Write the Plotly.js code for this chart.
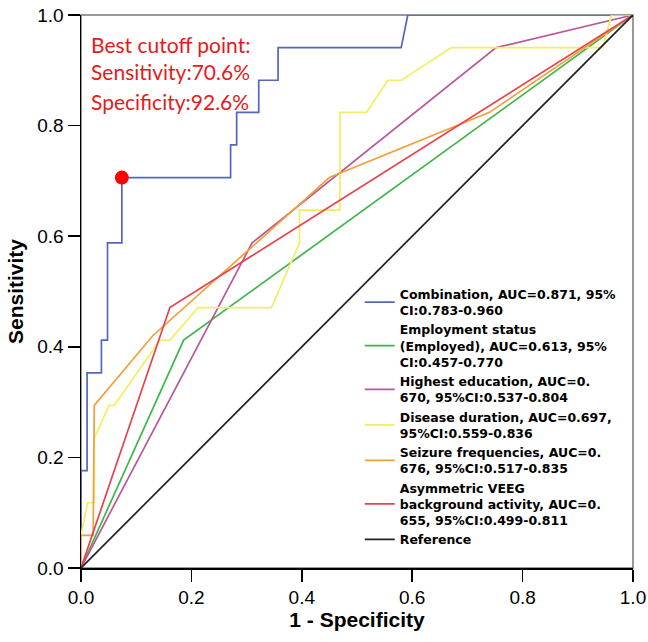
<!DOCTYPE html>
<html>
<head>
<meta charset="utf-8">
<script src="https://cdn.plot.ly/plotly-3.0.1.min.js"></script>
<style>html,body{margin:0;padding:0;background:#fff;}#chart{width:648px;height:642px;}</style>
</head>
<body>
<div id="chart"></div>
<script>
// ROC curve coordinates (x = 1 - Specificity, y = Sensitivity)
const combX = [0, 0, 0.011, 0.011, 0.037, 0.037, 0.048, 0.048, 0.074, 0.074, 0.271, 0.271, 0.282, 0.282, 0.322, 0.322, 0.357, 0.357, 0.580, 0.592, 1];
const combY = [0, 0.176, 0.176, 0.353, 0.353, 0.412, 0.412, 0.588, 0.588, 0.706, 0.706, 0.765, 0.765, 0.824, 0.824, 0.882, 0.882, 0.941, 0.941, 1, 1];

const employX = [0, 0.186, 1];
const employY = [0, 0.412, 1];

const eduX = [0, 0.310, 0.752, 1];
const eduY = [0, 0.588, 0.941, 1];

const durX = [0, 0, 0.012, 0.024, 0.024, 0.051, 0.060, 0.143, 0.161, 0.212, 0.345, 0.396, 0.396, 0.469, 0.469, 0.517, 0.556, 0.580, 0.671, 0.945, 0.961, 1];
const durY = [0, 0.059, 0.118, 0.118, 0.235, 0.294, 0.294, 0.412, 0.412, 0.471, 0.471, 0.588, 0.647, 0.647, 0.824, 0.824, 0.882, 0.882, 0.941, 0.941, 1, 1];

const seizX = [0, 0, 0.022, 0.024, 0.130, 0.450, 0.740, 1];
const seizY = [0, 0.059, 0.059, 0.294, 0.420, 0.706, 0.824, 1];

const veegX = [0, 0.161, 1];
const veegY = [0, 0.471, 1];

const refX = [0, 1];
const refY = [0, 1];

const cutoffX = [0.074];
const cutoffY = [0.706];

const seriesNames = [
  "Combination, AUC=0.871, 95%<br>CI:0.783-0.960",
  "Employment status<br>(Employed), AUC=0.613, 95%<br>CI:0.457-0.770",
  "Highest education, AUC=0.<br>670, 95%CI:0.537-0.804",
  "Disease duration, AUC=0.697,<br>95%CI:0.559-0.836",
  "Seizure frequencies, AUC=0.<br>676, 95%CI:0.517-0.835",
  "Asymmetric VEEG<br>background activity, AUC=0.<br>655, 95%CI:0.499-0.811",
  "Reference"
];
const seriesColors = ["#5167c0", "#3fb54a", "#b8579a", "#f3ee63", "#f2a03a", "#e8434c", "#222222"];
const cutoffLines = ["Best cutoff point:", "Sensitivity:70.6%", "Specificity:92.6%"];
const tickVals = [0, 0.2, 0.4, 0.6, 0.8, 1.0];
const tickText = ["0.0", "0.2", "0.4", "0.6", "0.8", "1.0"];

const xs = [combX, employX, eduX, durX, seizX, veegX, refX];
const ys = [combY, employY, eduY, durY, seizY, veegY, refY];

const traces = xs.map((x, i) => ({
  x: x, y: ys[i], type: "scatter", mode: "lines",
  name: seriesNames[i],
  line: {color: seriesColors[i], width: 1.7},
  hoverinfo: "skip"
}));
traces.push({
  x: cutoffX, y: cutoffY, type: "scatter", mode: "markers",
  marker: {color: "#ff0000", size: 14},
  showlegend: false, hoverinfo: "skip"
});

const annYs = [0.947, 0.897, 0.844];
const annotations = cutoffLines.map((t, i) => ({
  x: 0.015, y: annYs[i], xref: "x", yref: "y",
  xanchor: "left", yanchor: "middle", showarrow: false,
  text: t, font: {family: "Lato, 'Open Sans', sans-serif", size: 21, color: "#e8191a"}
}));

const axisFont = {family: "'Liberation Sans', Arial, sans-serif", size: 19, color: "#000"};
const titleFont = {family: "'Liberation Sans', Arial, sans-serif", size: 21, color: "#000", weight: "bold"};

const layout = {
  width: 648, height: 642,
  margin: {l: 81, r: 15, t: 15, b: 74},
  paper_bgcolor: "#fff", plot_bgcolor: "#fff",
  showlegend: true,
  legend: {
    x: 0.505, y: 0.522, xanchor: "left", yanchor: "top",
    bgcolor: "rgba(0,0,0,0)", borderwidth: 0,
    font: {family: "'DejaVu Sans', sans-serif", size: 12.5, color: "#000", weight: "bold"},
    tracegroupgap: 0
  },
  xaxis: {
    range: [0, 1], tickvals: tickVals, ticktext: tickText,
    showgrid: false, zeroline: false, showline: true, linecolor: "#000", linewidth: 1.5,
    ticks: "outside", ticklen: 12, tickcolor: "#000", tickwidth: 1.5,
    tickfont: axisFont,
    title: {text: "1 - Specificity", font: titleFont, standoff: 5}
  },
  yaxis: {
    range: [0, 1], tickvals: tickVals, ticktext: tickText,
    showgrid: false, zeroline: false, showline: true, linecolor: "#000", linewidth: 1.5,
    ticks: "outside", ticklen: 12, tickcolor: "#000", tickwidth: 1.5,
    tickfont: axisFont,
    title: {text: "Sensitivity", font: titleFont, standoff: 8}
  },
  shapes: [{
    type: "rect", xref: "paper", yref: "paper", x0: 0, y0: 0, x1: 1, y1: 1,
    line: {color: "#777", width: 1.5}, layer: "below"
  }],
  annotations: annotations
};

Plotly.newPlot("chart", traces, layout, {staticPlot: true, displayModeBar: false});
</script>
</body>
</html>
